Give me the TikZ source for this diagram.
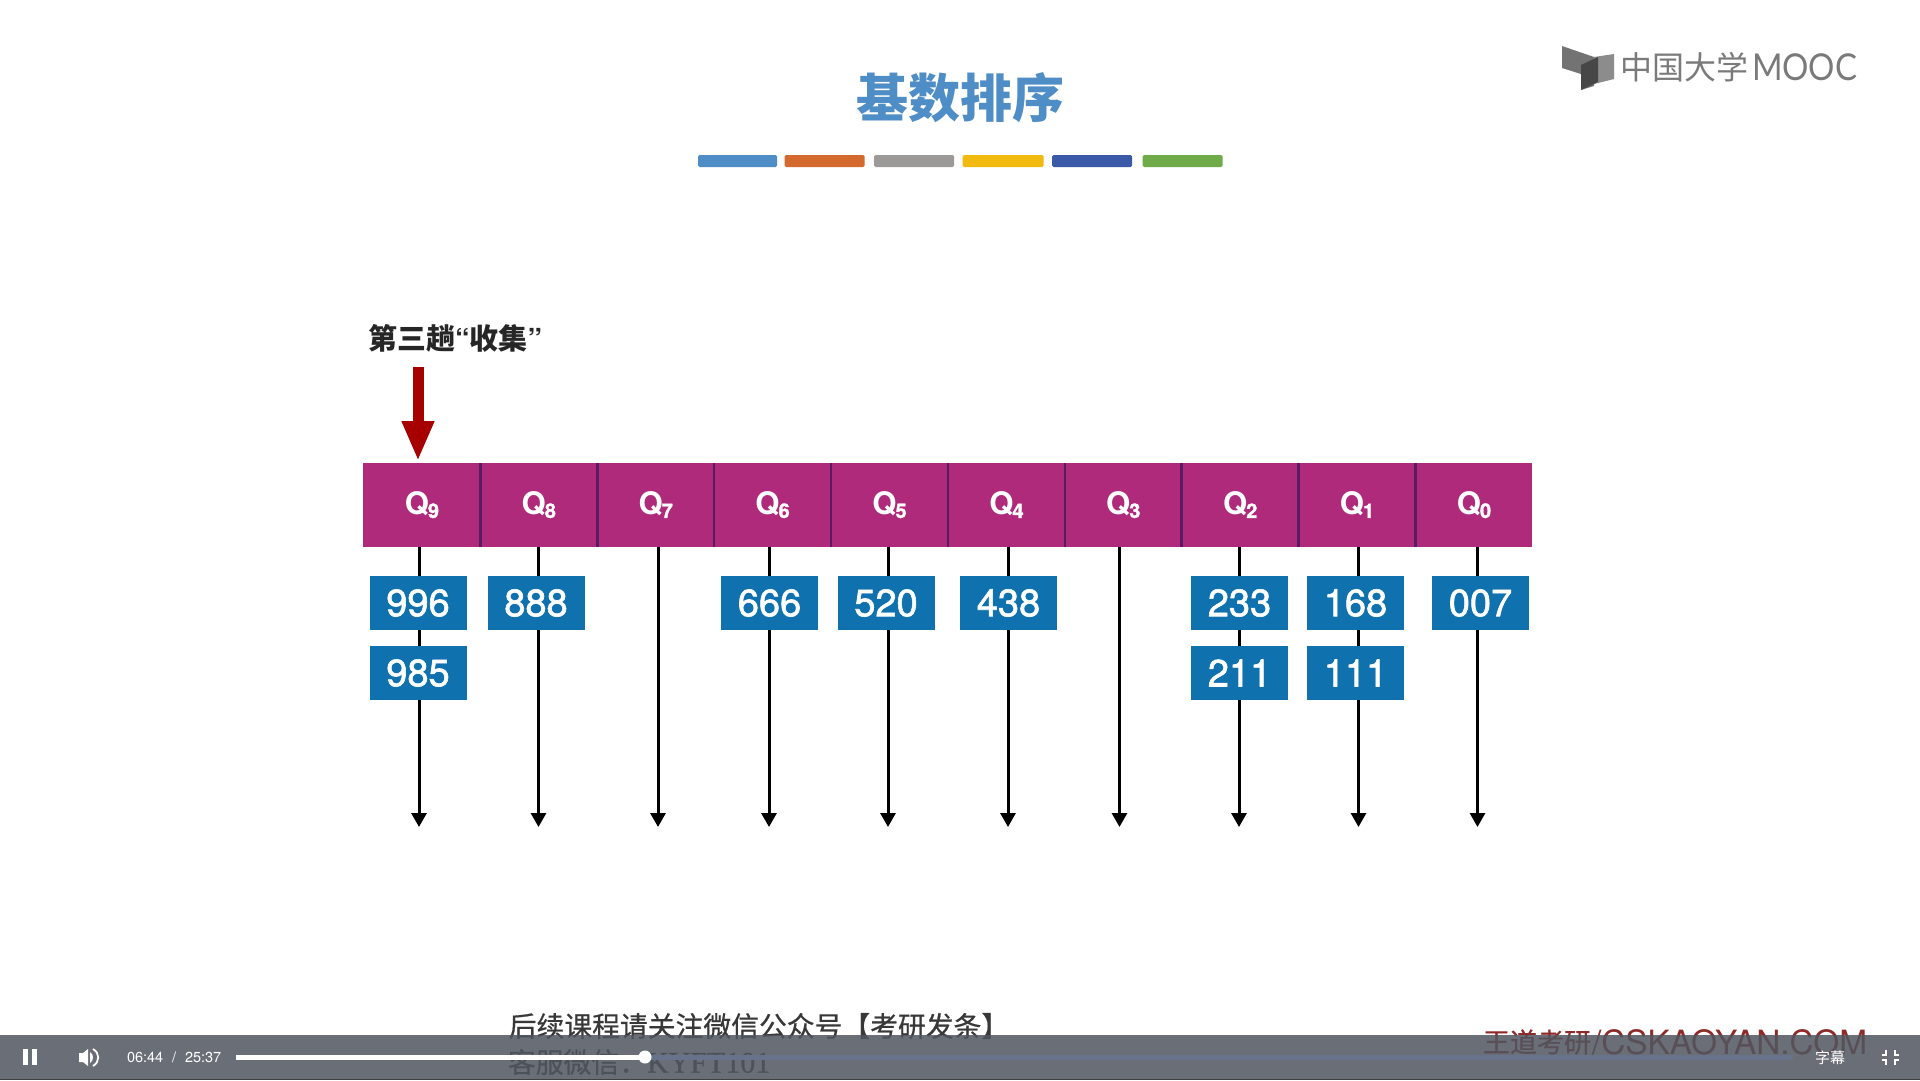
\documentclass[tikz,border=0pt]{standalone}
\usepackage{fontspec}
\setmainfont{TeX Gyre Heros}
\newfontfamily\cjk{Noto Sans CJK SC}
\newfontfamily\cjkb[FakeBold=0.6]{Noto Sans CJK SC}
\newfontfamily\helvm[FakeBold=1.6]{TeX Gyre Heros}
\newfontfamily\lato[FakeStretch=0.89]{Lato}
\newfontfamily\serifl[FakeBold=0.6]{Liberation Serif}
\usetikzlibrary{arrows.meta,backgrounds}
\definecolor{barmag}{HTML}{B02A7B}
\definecolor{sepcol}{HTML}{5A1A62}
\definecolor{boxblue}{HTML}{0F72AE}
\definecolor{titleblue}{HTML}{4F8DC6}
\definecolor{playerbar}{HTML}{505660}
\definecolor{progressrest}{HTML}{66738A}
\definecolor{cOrange}{HTML}{D4692E}
\definecolor{cGray}{HTML}{9C9A98}
\definecolor{cYellow}{HTML}{F2B90F}
\definecolor{cBlue}{HTML}{3A5AA8}
\definecolor{cGreen}{HTML}{6FAB48}
\definecolor{wmred}{HTML}{8E2A2A}
\newcommand{\fsz}[1]{\fontsize{#1}{#1}\selectfont}
\newcommand{\qlab}[1]{\bfseries\fsz{31}Q\kern-1pt\raisebox{-3pt}{\fsz{20}\helvm #1}}
\tikzset{
  x=1pt,y=-1pt,
  qcell/.style={fill=barmag,minimum width=116.9pt,minimum height=84pt,inner sep=0pt,outer sep=0pt,text=white},
  numbox/.style={fill=boxblue,minimum width=97pt,minimum height=54pt,inner sep=0pt,outer sep=0pt,text=white,font=\helvm\fsz{38}},
  sepline/.style={draw=sepcol,line width=2.6pt},
  queueline/.style={draw=black,line width=3pt,-{Triangle[width=15pt,length=14pt]}},
  colorbar/.style={inner sep=0pt,outer sep=0pt,minimum height=12pt,rounded corners=1.5pt},
  plain/.style={inner sep=0pt,outer sep=0pt},
}
\begin{document}
\begin{tikzpicture}
\useasboundingbox (0,0) rectangle (1920,1080);
% queue heads
\node[qcell] (q9) at (421.9,505) {\qlab{9}};
\node[qcell] (q8) at (538.8,505) {\qlab{8}};
\node[qcell] (q7) at (655.7,505) {\qlab{7}};
\node[qcell] (q6) at (772.6,505) {\qlab{6}};
\node[qcell] (q5) at (889.5,505) {\qlab{5}};
\node[qcell] (q4) at (1006.4,505) {\qlab{4}};
\node[qcell] (q3) at (1123.3,505) {\qlab{3}};
\node[qcell] (q2) at (1240.2,505) {\qlab{2}};
\node[qcell] (q1) at (1357.1,505) {\qlab{1}};
\node[qcell] (q0) at (1474,505) {\qlab{0}};
\foreach \n in {9,8,7,6,5,4,3,2,1}
  \draw[sepline] (q\n.north east) -- (q\n.south east);
% records
\node[numbox] (n996) at (418,603) {996};
\node[numbox] (n985) at (418,673) {985};
\node[numbox] (n888) at (536,603) {888};
\node[numbox] (n666) at (769.5,603) {666};
\node[numbox] (n520) at (886,603) {520};
\node[numbox] (n438) at (1008.5,603) {438};
\node[numbox] (n233) at (1239.5,603) {233};
\node[numbox] (n211) at (1239.5,673) {211};
\node[numbox] (n168) at (1355.5,603) {168};
\node[numbox] (n111) at (1355.5,673) {111};
\node[numbox] (n007) at (1480.5,603) {007};
% queue lines
\coordinate (e9) at (419,827);
\coordinate (e8) at (538.5,827);
\coordinate (e7) at (658,827);
\coordinate (e6) at (769,827);
\coordinate (e5) at (888,827);
\coordinate (e4) at (1008,827);
\coordinate (e3) at (1119.5,827);
\coordinate (e2) at (1239,827);
\coordinate (e1) at (1358.5,827);
\coordinate (e0) at (1477.5,827);
\begin{scope}[on background layer]
  \fill[white] (0,0) rectangle (1920,1080);
  \foreach \n in {9,8,7,6,5,4,3,2,1,0}
    \draw[queueline] (q\n.south -| e\n) -- (e\n);
\end{scope}
% title
\node[plain,text=titleblue,font=\cjk\bfseries\fsz{52}] (title) at (960,98) {基数排序};
\node[colorbar,fill=titleblue,minimum width=79pt] (b1) at (737.5,161) {};
\node[colorbar,fill=cOrange,minimum width=80pt] (b2) at (824.5,161) {};
\node[colorbar,fill=cGray,minimum width=80pt] (b3) at (914,161) {};
\node[colorbar,fill=cYellow,minimum width=81pt] (b4) at (1003,161) {};
\node[colorbar,fill=cBlue,minimum width=80pt] (b5) at (1092,161) {};
\node[colorbar,fill=cGreen,minimum width=80pt] (b6) at (1182.5,161) {};
% label and red arrow
\node[plain,anchor=west,font=\cjk\bfseries\fsz{29},text=black!85] (pass) at (368,338) {第三趟{\rmfamily\bfseries“}收集{\rmfamily\bfseries”}};
\coordinate (rs) at (418,367);
\coordinate (re) at (418,461);
\draw[draw=red!65!black,line width=11pt,-{Triangle[width=30pt,length=40pt]}] (rs) -- (re);
% logo
\fill[black!55] (1562,46) -- (1594,57) -- (1594,86) -- (1581,90) -- (1581,74) -- (1562,68) -- cycle;
\fill[black!45] (1594,57) -- (1614,54) -- (1614,79) -- (1594,84) -- cycle;
\fill[black!72] (1581,65) -- (1598,57) -- (1598,82) -- (1581,90) -- cycle;
\node[plain,anchor=west,font=\cjk\fsz{32},text=black!52] (logoa) at (1620,67) {中国大学};
\node[plain,anchor=west,font=\lato\fsz{37},text=black!52] (logob) at (1752,67) {MOOC};
% watermark texts, seen through the player bar
\node[plain,font=\cjkb\fsz{27.8},text=black!78] (foot1) at (759,1026) {后续课程请关注微信公众号【考研发条】};
\node[plain,anchor=west,font=\cjkb\fsz{27.8},text=black!78] (foot2) at (508,1062) {客服微信：{\serifl\fsz{30}KYFT101}};
\node[plain,anchor=west,font=\cjkb\fsz{27},text=wmred] (wm1) at (1483,1042) {王道考研};
\node[plain,anchor=west,font=\fsz{33.4},text=wmred] (wm2) at (1592,1042) {/CSKAOYAN.COM};
% player bar
\fill[playerbar,opacity=0.85] (0,1035) rectangle (1920,1080);
\fill[black!75] (0,1079) rectangle (1920,1080);
\fill[white] (23,1049) rectangle (28,1065);
\fill[white] (32,1049) rectangle (37,1065);
\fill[white] (79,1053) -- (83,1053) -- (88,1049) -- (88,1066) -- (83,1062) -- (79,1062) -- cycle;
\fill[white] (90,1052) .. controls (94,1054) and (94,1061) .. (90,1063) -- cycle;
\draw[white,line width=1.8pt] (93,1049) .. controls (100,1053) and (100,1062) .. (93,1066);
\node[plain,anchor=west,font=\fsz{14.5},text=white] (time) at (127,1057.5) {06:44\,\, /\,\, 25:37};
\fill[progressrest] (645,1054.5) rectangle (1793,1059.5);
\fill[white] (236,1054.5) rectangle (645,1059.5);
\fill[white] (645,1057) circle[radius=6.5pt];
\node[plain,font=\cjk\fsz{15},text=white] (subs) at (1830,1057.5) {字幕};
\draw[white,line width=2.2pt] (1886,1050) -- (1886,1055) -- (1882,1055);
\draw[white,line width=2.2pt] (1895,1050) -- (1895,1055) -- (1899,1055);
\draw[white,line width=2.2pt] (1882,1060) -- (1886,1060) -- (1886,1065);
\draw[white,line width=2.2pt] (1899,1060) -- (1895,1060) -- (1895,1065);
\end{tikzpicture}
\end{document}
